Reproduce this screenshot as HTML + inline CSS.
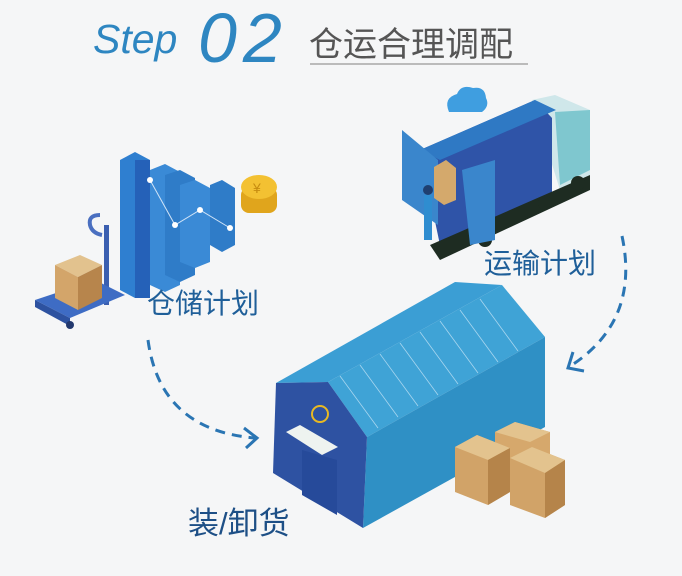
<!DOCTYPE html>
<html><head><meta charset="utf-8"><style>
html,body{margin:0;padding:0;background:#f5f6f7;}
svg{display:block}
</style></head><body>
<svg width="682" height="576" viewBox="0 0 682 576" xmlns="http://www.w3.org/2000/svg">
<rect width="682" height="576" fill="#f5f6f7"/>
<!-- title -->
<text x="93" y="53" font-family="Liberation Sans, sans-serif" font-style="italic" font-size="41" fill="#2e86c1">Step</text>
<text x="198" y="62" font-family="Liberation Sans, sans-serif" font-style="italic" font-size="70" fill="#2e86c1" letter-spacing="6" style="font-weight:300">02</text>
<text x="309" y="56" font-family="Liberation Sans, 'Noto Sans CJK SC', sans-serif" font-size="34" fill="#555">仓运合理调配</text>
<line x1="310" y1="64" x2="528" y2="64" stroke="#bbb" stroke-width="2"/>

<!-- pallet jack -->
<g>
<path d="M100 215 q-12 0 -10 10 q2 8 12 10" fill="none" stroke="#4a6fc0" stroke-width="4"/>
<rect x="104" y="225" width="5" height="80" fill="#3b5fb0"/>
<polygon points="35,300 95,280 125,295 70,318" fill="#3e6cc4"/>
<polygon points="35,300 70,318 70,326 35,307" fill="#2d52a0"/>
<circle cx="70" cy="325" r="4" fill="#22386e"/>
<polygon points="55,265 80,255 102,265 78,277" fill="#e2c28e"/>
<polygon points="55,265 78,277 78,310 55,298" fill="#d3a56a"/>
<polygon points="78,277 102,265 102,298 78,310" fill="#b7854c"/>
</g>
<!-- bars -->
<g>
<polygon points="120,160 135,152 150,160 150,290 135,298 120,290" fill="#2f7fd0"/>
<rect x="135" y="160" width="15" height="138" fill="#2561b8"/>
<polygon points="150,170 165,164 180,172 180,285 165,292 150,285" fill="#3a8ad6"/>
<polygon points="165,175 180,170 195,178 195,275 180,282 165,275" fill="#2f7cc8"/>
<polygon points="180,185 195,180 210,188 210,262 195,268 180,262" fill="#3a8ad6"/>
<polygon points="210,185 222,180 235,188 235,245 222,252 210,245" fill="#2f7cc8"/>
<polyline points="150,180 175,225 200,210 230,228" fill="none" stroke="#cfe3f7" stroke-width="1"/>
<circle cx="150" cy="180" r="3" fill="#fff"/><circle cx="175" cy="225" r="3" fill="#fff"/>
<circle cx="200" cy="210" r="3" fill="#fff"/><circle cx="230" cy="228" r="3" fill="#fff"/>
<rect x="241" y="187" width="36" height="26" rx="8" fill="#e0a51c"/>
<ellipse cx="259" cy="187" rx="18" ry="12" fill="#f3c132"/>
<text x="253" y="193" font-size="14" fill="#c68c10" font-family="Liberation Sans, sans-serif">¥</text>
</g>
<text x="147" y="313" font-family="Liberation Sans, 'Noto Sans CJK SC', sans-serif" font-size="28" fill="#1f5f99">仓储计划</text>

<!-- cloud -->
<path d="M449 112 q-6 -14 8 -18 q4 -10 16 -6 q12 -2 13 10 q4 8 -4 14 z" fill="#3f9ee0"/>
<!-- truck -->
<g>
<polygon points="532,100 555,95 590,110 590,175 560,190" fill="#cfe7ea"/>
<polygon points="555,112 590,110 590,170 560,185" fill="#7fc7cf"/>
<polygon points="420,150 535,100 552,118 552,200 440,245" fill="#2f54a8"/>
<polygon points="420,150 535,100 556,110 440,160" fill="#2f79c4"/>
<polygon points="430,245 590,175 590,190 440,260" fill="#1e2c22"/>
<circle cx="545" cy="203" r="7" fill="#1e2c22"/><circle cx="578" cy="183" r="7" fill="#1e2c22"/>
<circle cx="485" cy="240" r="7" fill="#1e2c22"/>
<polygon points="402,130 438,160 438,225 402,200" fill="#3a86cc"/>
<polygon points="462,170 495,160 495,240 470,245" fill="#3a86cc"/>
<polygon points="434,167 446,160 456,168 456,200 444,205 434,198" fill="#d4a96c"/>
<rect x="424" y="195" width="8" height="45" fill="#2f8dd0"/>
<circle cx="428" cy="190" r="5" fill="#1f3f70"/>
</g>
<text x="484" y="273" font-family="Liberation Sans, 'Noto Sans CJK SC', sans-serif" font-size="28" fill="#1f5f99">运输计划</text>

<!-- arrows -->
<path d="M148 340 Q160 430 255 438" fill="none" stroke="#2a75b3" stroke-width="3" stroke-dasharray="10 7"/>
<path d="M244 428 L257 438 L246 448" fill="none" stroke="#2a75b3" stroke-width="3"/>
<path d="M622 236 Q640 320 572 365" fill="none" stroke="#2a75b3" stroke-width="3" stroke-dasharray="10 7"/>
<path d="M573 352 L568 368 L584 371" fill="none" stroke="#2a75b3" stroke-width="3"/>

<!-- warehouse -->
<polygon points="276,383 455,282 502,285 328,382" fill="#3b9ed4"/>
<polygon points="328,382 502,285 545,337 367,437" fill="#3fa3d6"/>
<g stroke="#a8d6ef" stroke-width="0.8">
<line x1="340" y1="376" x2="378" y2="428"/><line x1="360" y1="365" x2="398" y2="417"/>
<line x1="380" y1="354" x2="418" y2="406"/><line x1="400" y1="343" x2="438" y2="395"/>
<line x1="420" y1="332" x2="458" y2="384"/><line x1="440" y1="321" x2="478" y2="373"/>
<line x1="460" y1="310" x2="498" y2="362"/><line x1="480" y1="299" x2="518" y2="351"/>
</g>
<polygon points="367,437 545,337 545,427 363,528" fill="#2f90c5"/>
<polygon points="276,383 328,382 367,437 363,528 273,473" fill="#2e52a2"/>
<polygon points="302,450 337,460 337,515 302,495" fill="#264a9a"/>
<polygon points="286,432 300,425 338,447 322,455" fill="#eef3f0"/>
<circle cx="320" cy="414" r="8" fill="none" stroke="#e8b923" stroke-width="2"/>
<!-- boxes -->
<polygon points="495,432 515,422 550,432 550,462 530,472 495,462" fill="#d6a86c"/>
<polygon points="495,432 515,422 550,432 530,442" fill="#e3c38e"/>
<polygon points="455,447 477,435 510,448 510,492 488,505 455,492" fill="#d1a368"/>
<polygon points="455,447 477,435 510,448 488,460" fill="#e3c38e"/>
<polygon points="488,460 510,448 510,492 488,505" fill="#b5844a"/>
<polygon points="510,458 532,447 565,460 565,505 545,518 510,505" fill="#d1a368"/>
<polygon points="510,458 532,447 565,460 545,473" fill="#e3c38e"/>
<polygon points="545,473 565,460 565,505 545,518" fill="#b5844a"/>
<text x="188" y="534" font-family="Liberation Sans, 'Noto Sans CJK SC', sans-serif" font-size="31" fill="#1d4f86">装/卸货</text>
</svg>
</body></html>
